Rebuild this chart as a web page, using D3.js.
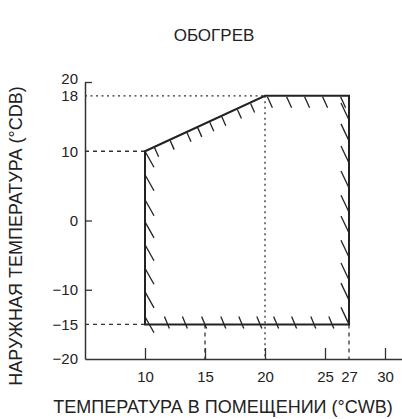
<!DOCTYPE html>
<html>
<head>
<meta charset="utf-8">
<script src="https://cdn.jsdelivr.net/npm/d3@7"></script>
<style>
  body { margin: 0; background: #fff; }
  svg text { font-family: "Liberation Sans", Arial, sans-serif; fill: #222; }
</style>
</head>
<body>
<script>
// operating range (indoor °CWB, outdoor °CDB)
var areaX = [10, 20, 27, 27, 10];
var areaY = [10, 18, 18, -15, -15];

var xTicks = [10, 15, 20, 25, 27, 30];
var yTicks = [-20, -15, -10, 0, 10, 18, 20];

// reference lines: [x1, y1, x2, y2]
var dotLines = [[5, 18, 20, 18], [20, 18, 20, -20]];
var dashLines = [[5, 10, 10, 10], [5, -15, 10, -15], [15, -15, 15, -20], [27, -15, 27, -20]];

// hatch marks along each edge
var slopeHatchX = [10.8, 12.1, 13.5, 14.4, 15.4, 16.4, 17.7, 18.8];
var topHatchX = [20.2, 21.8, 23.3, 24.8, 26.3];
var rightHatchY = [14.5, 11.5, 8.3, 4.7, 1.2, -1.8, -5.3, -8.6, -11.5, -15];
var leftHatchY = [10, 6.6, 3.0, -0.2, -3.5, -6.9, -10.3, -13.9];
var bottomHatchX = [11.7, 13.2, 14.8, 16.4, 17.9, 19.4, 20.8, 22.3, 23.9, 25.4];

var W = 402, H = 419;

var x = d3.scaleLinear().domain([5, 31.5]).range([85, 403]);
var y = d3.scaleLinear().domain([-20, 20]).range([359, 82]);

var svg = d3.select('body').append('svg')
  .attr('width', W)
  .attr('height', H);

svg.append('text')
  .attr('x', 214).attr('y', 41)
  .attr('text-anchor', 'middle')
  .style('font-size', '17px')
  .text('ОБОГРЕВ');

// axes
var xAxis = d3.axisBottom(x).tickValues(xTicks).tickSize(-11).tickSizeOuter(0).tickPadding(18);
var yAxis = d3.axisLeft(y).tickValues(yTicks).tickSize(-7).tickSizeOuter(0).tickPadding(7);

var gx = svg.append('g')
  .attr('transform', 'translate(0,' + y(-20) + ')')
  .call(xAxis);
var gy = svg.append('g')
  .attr('transform', 'translate(' + x(5) + ',0)')
  .call(yAxis);

[gx, gy].forEach(function(g) {
  g.select('.domain').attr('stroke', '#333').attr('stroke-width', 1.5);
  g.selectAll('.tick line').attr('stroke', '#333').attr('stroke-width', 1.3);
  g.selectAll('.tick text')
    .style('font-size', '15px')
    .style('font-family', '"Liberation Sans", Arial, sans-serif')
    .attr('fill', '#222');
});
gx.selectAll('.tick').filter(function(d) { return d === 27; }).select('line').remove();
gy.selectAll('.tick').filter(function(d) { return d === 18 || d === 10 || d === -15 || d === -20; }).select('line').remove();
gx.selectAll('.tick text').attr('dy', '0.32em');
gy.selectAll('.tick').filter(function(d) { return d === 20; }).select('text').attr('dy', '0.08em');
gy.selectAll('.tick').filter(function(d) { return d === 18; }).select('text').attr('dy', '0.28em');

// reference lines
svg.selectAll('.dot-line')
  .data(dotLines)
  .enter().append('line')
  .attr('x1', function(d) { return x(d[0]); })
  .attr('y1', function(d) { return y(d[1]); })
  .attr('x2', function(d) { return x(d[2]); })
  .attr('y2', function(d) { return y(d[3]); })
  .attr('stroke', '#333')
  .attr('stroke-width', 1.3)
  .attr('stroke-dasharray', '2,3.5');

svg.selectAll('.dash-line')
  .data(dashLines)
  .enter().append('line')
  .attr('x1', function(d) { return x(d[0]); })
  .attr('y1', function(d) { return y(d[1]); })
  .attr('x2', function(d) { return x(d[2]); })
  .attr('y2', function(d) { return y(d[3]); })
  .attr('stroke', '#333')
  .attr('stroke-width', 1.3)
  .attr('stroke-dasharray', '4,4');

// operating area outline
var pts = areaX.map(function(v, i) { return [x(v), y(areaY[i])]; });
svg.append('path')
  .attr('d', d3.line()(pts) + 'Z')
  .attr('fill', 'none')
  .attr('stroke', '#222')
  .attr('stroke-width', 2)
  .attr('stroke-linejoin', 'miter');

// hatches
function slopeY(v) {
  var t = (v - areaX[0]) / (areaX[1] - areaX[0]);
  return areaY[0] + t * (areaY[1] - areaY[0]);
}
var hatches = [];
slopeHatchX.forEach(function(v) {
  var px = x(v), py = y(slopeY(v));
  hatches.push([px, py + 1, px + 4, py + 10]);
});
topHatchX.forEach(function(v) {
  var px = x(v), py = y(18);
  hatches.push([px, py + 1, px + 5, py + 12]);
});
rightHatchY.forEach(function(v) {
  var px = x(27), py = y(v);
  hatches.push([px - 8, py - 17, px, py]);
});
leftHatchY.forEach(function(v) {
  var px = x(10), py = y(v);
  hatches.push([px, py, px + 9, py + 16]);
});
bottomHatchX.forEach(function(v) {
  var px = x(v), py = y(-15);
  hatches.push([px - 1, py - 8, px + 4, py + 4]);
});

svg.selectAll('.hatch')
  .data(hatches)
  .enter().append('line')
  .attr('class', 'hatch')
  .attr('x1', function(d) { return d[0]; })
  .attr('y1', function(d) { return d[1]; })
  .attr('x2', function(d) { return d[2]; })
  .attr('y2', function(d) { return d[3]; })
  .attr('stroke', '#222')
  .attr('stroke-width', 1.3);

// axis titles
svg.append('text')
  .attr('x', 223).attr('y', 413)
  .attr('text-anchor', 'middle')
  .style('font-size', '18px')
  .text('ТЕМПЕРАТУРА В ПОМЕЩЕНИИ (°CWB)');

svg.append('text')
  .attr('transform', 'translate(22,236) rotate(-90)')
  .attr('text-anchor', 'middle')
  .style('font-size', '18px')
  .text('НАРУЖНАЯ ТЕМПЕРАТУРА (°CDB)');
</script>
</body>
</html>
